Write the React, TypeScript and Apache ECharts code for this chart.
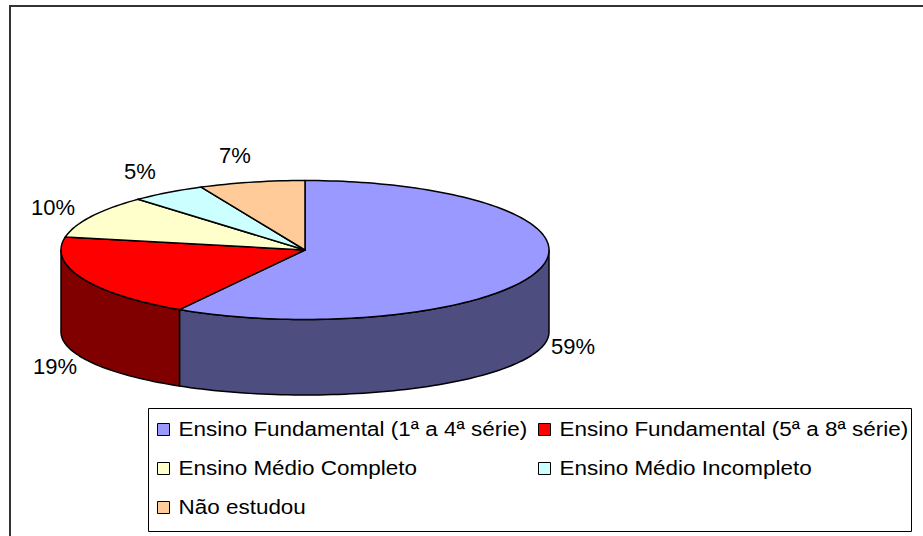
import React, { useEffect, useRef } from "react";
import * as echarts from "echarts";

const categories = [
  "Ensino Fundamental (1ª a 4ª série)",
  "Ensino Fundamental (5ª a 8ª série)",
  "Ensino Médio Completo",
  "Ensino Médio Incompleto",
  "Não estudou",
];
const values = [58.6, 19.4, 10, 5, 7];
const topColors = ["#9999FF", "#FF0000", "#FFFFCC", "#CCFFFF", "#FFCC99"];
const sideColors = ["#4D4D80", "#800000", "#80805F", "#5F8080", "#80664D"];

const FONT = "'Liberation Sans', Arial, sans-serif";

// geometry (layout)
const CX = 305;
const CY = 250;
const RX = 244;
const RY = 69.5;
const CYB = 332;
const RYB = 63;
const LABEL_FS = 22;
const LEGEND_FS = 21;

export default function App() {
  const ref = useRef<HTMLDivElement>(null);
  useEffect(() => {
    if (!ref.current) return;
    const chart = echarts.init(ref.current, null, { renderer: "svg" });
    const total = values.reduce((a, b) => a + b, 0);
    const cum: number[] = [0];
    values.forEach((v, i) => cum.push(cum[i] + v));

    const arc = (a: number, b: number, cy: number, ry: number) => {
      const n = Math.max(4, Math.ceil(Math.abs(b - a) / (Math.PI / 120)));
      const pts: number[][] = [];
      for (let k = 0; k <= n; k++) {
        const t = a + ((b - a) * k) / n;
        pts.push([CX + RX * Math.cos(t), cy + ry * Math.sin(t)]);
      }
      return pts;
    };

    const renderItem = (params: any, api: any) => {
      const i = params.dataIndex;
      const v = api.value(0);
      const t0 = -Math.PI / 2 + (2 * Math.PI * cum[i]) / total;
      const t1 = t0 + (2 * Math.PI * v) / total;
      const children: any[] = [];
      const a = Math.max(t0, 0);
      const b = Math.min(t1, Math.PI);
      if (b > a) {
        const pts = arc(a, b, CY, RY).concat(arc(b, a, CYB, RYB));
        children.push({
          type: "polygon",
          shape: { points: pts },
          style: { fill: sideColors[i], stroke: "#000", lineWidth: 1.5, lineJoin: "round" },
        });
      }
      const topPts = [[CX, CY]].concat(arc(t0, t1, CY, RY));
      children.push({
        type: "polygon",
        shape: { points: topPts },
        style: { fill: topColors[i], stroke: "#000", lineWidth: 1.5, lineJoin: "round" },
      });
      const tm = (t0 + t1) / 2;
      const c = Math.cos(tm);
      const s = Math.sin(tm);
      const txt = Math.round((v / total) * 100) + "%";
      // label placement around the 3D pie (front labels sit below the wall)
      const lx = CX + 276 * c + (s > 0 ? 2 : -10);
      const ly = s > 0 ? 308 + 144 * s : CY + 8 + 105 * s;
      children.push({
        type: "text",
        style: {
          text: txt,
          x: lx,
          y: ly,
          align: "center",
          verticalAlign: "middle",
          fontSize: LABEL_FS,
          fontFamily: FONT,
          fill: "#000",
        },
      });
      return { type: "group", children };
    };

    const legendEls: any[] = [
      {
        type: "rect",
        shape: { x: 148.5, y: 408.5, width: 763, height: 123 },
        style: { fill: "#fff", stroke: "#000", lineWidth: 1 },
        silent: true,
      },
    ];
    categories.forEach((name, i) => {
      const col = i % 2;
      const row = Math.floor(i / 2);
      const mx = col === 0 ? 157.5 : 538.5;
      const my = 423.5 + row * 39;
      legendEls.push({
        type: "rect",
        shape: { x: mx, y: my, width: 12, height: 12 },
        style: { fill: topColors[i], stroke: "#000", lineWidth: 1 },
        silent: true,
      });
      legendEls.push({
        type: "text",
        x: mx + 21,
        y: my + 5.5,
        scaleX: 1.07,
        style: {
          text: name,
          x: 0,
          y: 0,
          align: "left",
          verticalAlign: "middle",
          textAlign: "left",
          textVerticalAlign: "middle",
          fontSize: LEGEND_FS,
          fontFamily: FONT,
          fill: "#000",
        },
        silent: true,
      });
    });

    chart.setOption({
      animation: false,
      backgroundColor: "#fff",
      graphic: [
        {
          type: "rect",
          shape: { x: 10, y: 6, width: 1000, height: 600 },
          style: { fill: "none", stroke: "#333", lineWidth: 2 },
          silent: true,
        },
        ...legendEls,
      ],
      series: [
        {
          type: "custom",
          coordinateSystem: "none",
          renderItem,
          data: values.map((v, i) => ({ name: categories[i], value: [v] })),
          silent: true,
        },
      ],
    });
    return () => chart.dispose();
  }, []);
  return (
    <div
      ref={ref}
      style={{ position: "fixed", left: 0, top: 0, width: 923, height: 536 }}
    />
  );
}
